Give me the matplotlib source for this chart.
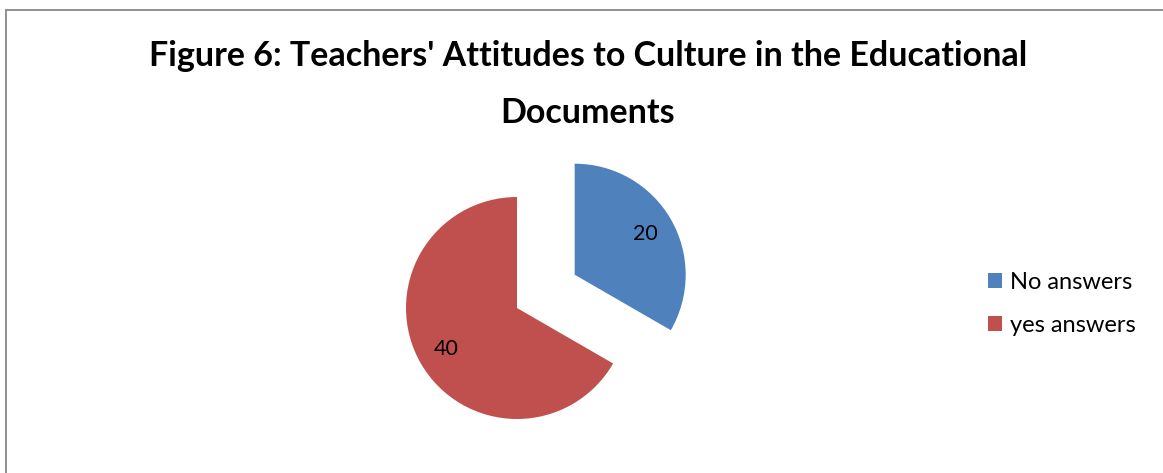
import matplotlib
matplotlib.use("Agg")
import matplotlib.pyplot as plt
from matplotlib.patches import Rectangle

# answers to the culture question
categories = ["No answers", "yes answers"]
counts = [20, 40]
colors = ["#4F81BD", "#C0504D"]
title = "Figure 6: Teachers' Attitudes to Culture in the Educational\nDocuments"

W, H = 1163, 473
plt.rcParams["font.family"] = ["Lato", "DejaVu Sans"]

fig = plt.figure(figsize=(W / 100, H / 100), dpi=100)

# chart frame (only top and left edges fall inside the image)
fig.patches.append(Rectangle((6 / W, -0.2), 1.2, 1.2 - 10.5 / H,
                             transform=fig.transFigure, fill=False,
                             edgecolor="#888888", linewidth=1.3))

# baseline of the last title line
fig.text(588 / W, 1 - 123 / H, title, ha="center", va="baseline",
         fontsize=24.5, fontweight="bold", linespacing=1.95)

# pie in unit-radius coords, axes spanning the whole figure
R = 111.0
cx, cy = 517.0, 308.0
ax = fig.add_axes([0, 0, 1, 1])
wedges, _, autotexts = ax.pie(
    counts, colors=colors, startangle=90, counterclock=False,
    explode=[0.6, 0], autopct=lambda p: f"{p * sum(counts) / 100:.0f}",
    pctdistance=0.74, wedgeprops=dict(linewidth=0),
    textprops=dict(fontsize=15.5, color="black"))
ax.set_xlim(-cx / R, (W - cx) / R)
ax.set_ylim(-(H - cy) / R, cy / R)
ax.set_aspect("equal")
ax.axis("off")

fig.legend(wedges, categories, loc="center left",
           bbox_to_anchor=(988 / W, 1 - 304 / H), frameon=False,
           fontsize=17, handlelength=0.6, handleheight=0.6,
           handletextpad=0.35, labelspacing=0.95,
           borderaxespad=0, borderpad=0)

fig.savefig("out.png", dpi=100)
